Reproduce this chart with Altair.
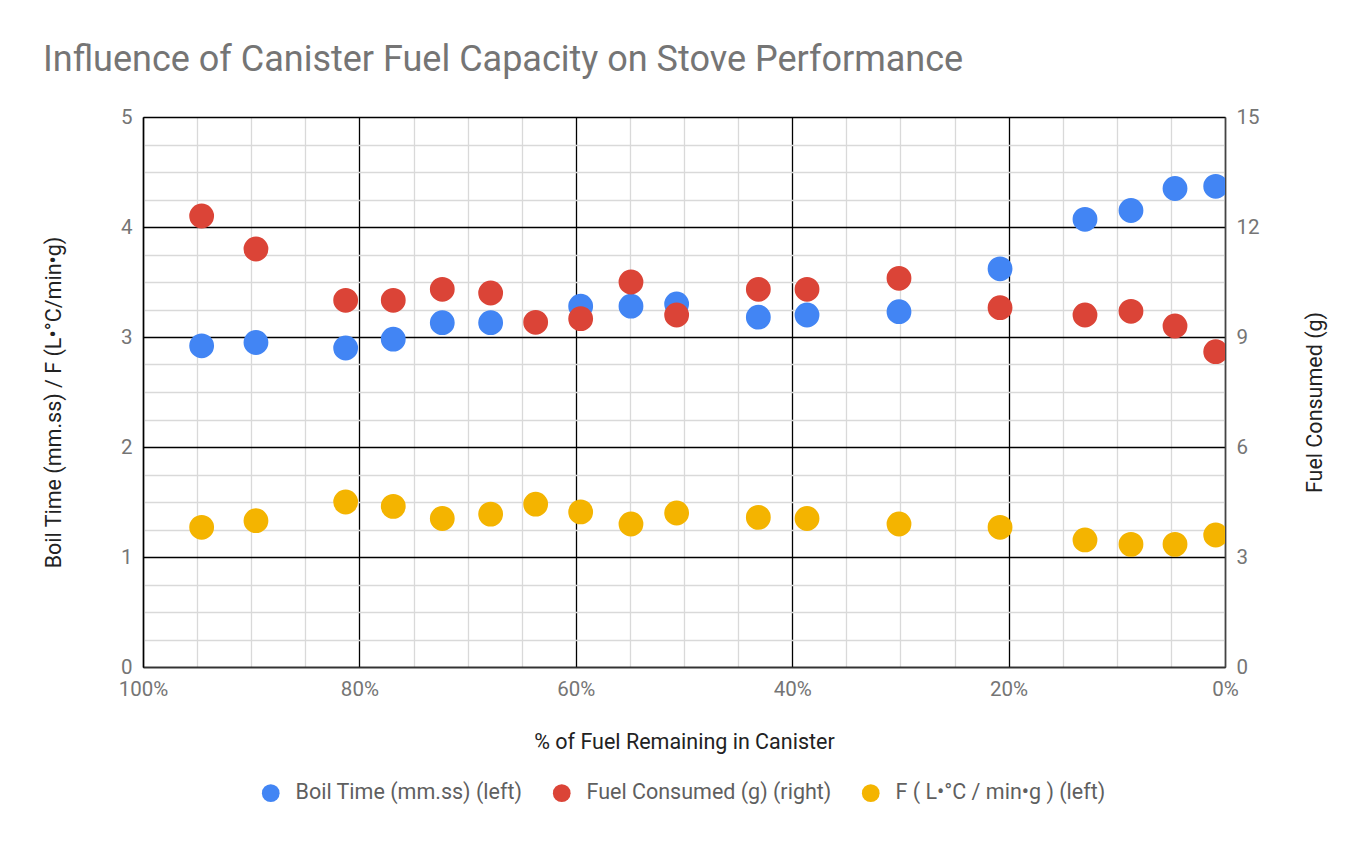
import altair as alt
import pandas as pd

# ---- data ----
pct_remaining = [94.58, 89.56, 81.27, 76.87, 72.34, 67.87, 63.71, 59.55, 54.90,
                 50.68, 43.13, 38.63, 30.13, 20.79, 12.94, 8.69, 4.62, 0.86]
boil_time = [2.92, 2.95, 2.90, 2.98, 3.13, 3.13, None, 3.28, 3.28,
             3.30, 3.18, 3.20, 3.23, 3.62, 4.07, 4.15, 4.35, 4.37]
fuel_consumed = [12.3, 11.4, 10.0, 10.0, 10.3, 10.2, 9.4, 9.5, 10.5,
                 9.6, 10.3, 10.3, 10.6, 9.8, 9.6, 9.7, 9.3, 8.6]
f_value = [1.27, 1.33, 1.50, 1.46, 1.35, 1.39, 1.48, 1.41, 1.30,
           1.40, 1.36, 1.35, 1.30, 1.27, 1.155, 1.115, 1.115, 1.20]

series_names = ["Boil Time (mm.ss) (left)", "Fuel Consumed (g) (right)",
                "F ( L•°C / min•g ) (left)"]
series_colors = ["#4285F4", "#DB4437", "#F4B400"]

rows = []
for i, p in enumerate(pct_remaining):
    rows.append({"pct": p, "series": series_names[0], "value": boil_time[i]})
    rows.append({"pct": p, "series": series_names[2], "value": f_value[i]})
    rows.append({"pct": p, "series": series_names[1], "value": fuel_consumed[i]})
df = pd.DataFrame(rows)

FONT = "Roboto"
GRAY_TXT = "#757575"
MINOR = "#d9d9d9"
TICK_FS = 20.5
TITLE_FS = 21.5

x_enc = alt.X(
    "pct:Q",
    scale=alt.Scale(domain=[0, 100], reverse=True, nice=False),
    axis=alt.Axis(
        values=list(range(0, 101, 5)),
        labelExpr="datum.value % 20 === 0 ? datum.value + '%' : ''",
        gridColor={"condition": {"test": "datum.value % 20 === 0", "value": "#000000"}, "value": MINOR},
        gridWidth=1.3,
        ticks=False,
        labelFlush=False,
        labelOverlap=False,
        labelPadding=12,
        labelFontSize=TICK_FS,
        labelColor=GRAY_TXT,
        labelFont=FONT,
        domainColor="#333333",
        domainWidth=1.5,
        title="% of Fuel Remaining in Canister",
        titleFont=FONT,
        titleFontSize=TITLE_FS,
        titleFontWeight="normal",
        titleColor="#222222",
        titleY=75,
        titleBaseline="middle",
    ),
)

color_enc = alt.Color(
    "series:N",
    scale=alt.Scale(domain=series_names, range=series_colors),
    legend=alt.Legend(
        title=None,
        orient="none",
        direction="horizontal",
        legendX=117,
        legendY=665,
        symbolType="circle",
        symbolSize=314,
        symbolStrokeWidth=0,
        symbolOpacity=1,
        labelFont=FONT,
        labelFontSize=21.5,
        labelColor="#5f5f5f",
        labelLimit=500,
        labelOffset=14,
        columnPadding=28,
        padding=0,
    ),
)

left_layer = alt.Chart(df).transform_filter(
    alt.datum.series != series_names[1]
).mark_circle(size=616, opacity=1, clip=True).encode(
    x=x_enc,
    y=alt.Y(
        "value:Q",
        scale=alt.Scale(domain=[0, 5], nice=False),
        axis=alt.Axis(
            orient="left",
            values=[i * 0.25 for i in range(21)],
            labelExpr="datum.value % 1 === 0 ? format(datum.value, 'd') : ''",
            gridColor={"condition": {"test": "datum.value % 1 === 0", "value": "#000000"}, "value": MINOR},
            gridWidth=1.3,
            ticks=False,
            labelPadding=11,
            labelFontSize=TICK_FS,
            labelColor=GRAY_TXT,
            labelFont=FONT,
            domainColor="#000000",
            domainWidth=1.5,
            title="Boil Time (mm.ss) / F (L•°C/min•g)",
            titleFont=FONT,
            titleFontSize=TITLE_FS,
            titleFontWeight="normal",
            titleColor="#222222",
            titleX=-89,
            titleY=285,
            titleAngle=270,
            titleBaseline="middle",
            titleAlign="center",
        ),
    ),
    color=color_enc,
)

right_layer = alt.Chart(df).transform_filter(
    alt.datum.series == series_names[1]
).mark_circle(size=616, opacity=1, clip=True).encode(
    x=x_enc,
    y=alt.Y(
        "value:Q",
        scale=alt.Scale(domain=[0, 15], nice=False),
        axis=alt.Axis(
            orient="right",
            values=[0, 3, 6, 9, 12, 15],
            format="d",
            grid=False,
            ticks=False,
            labelPadding=11,
            labelFontSize=TICK_FS,
            labelColor=GRAY_TXT,
            labelFont=FONT,
            domainColor="#444444",
            domainWidth=1.5,
            title="Fuel Consumed (g)",
            titleFont=FONT,
            titleFontSize=TITLE_FS,
            titleFontWeight="normal",
            titleColor="#222222",
            titleX=90,
            titleY=285,
            titleAngle=270,
            titleBaseline="middle",
            titleAlign="center",
        ),
    ),
    color=color_enc,
)

chart = alt.layer(left_layer, right_layer).resolve_scale(
    y="independent"
).properties(
    width=1082,
    height=550,
    padding={"left": 135, "top": 109, "right": 120, "bottom": 150},
    autosize=alt.AutoSizeParams(type="none"),
    title=alt.TitleParams(
        "Influence of Canister Fuel Capacity on Stove Performance",
        anchor="start",
        frame="group",
        dx=-100,
        fontSize=36,
        font=FONT,
        fontWeight="normal",
        color=GRAY_TXT,
        offset=28,
    ),
).configure_view(stroke=None)

chart.save("out.html", embed_options={"renderer": "svg", "actions": False})
